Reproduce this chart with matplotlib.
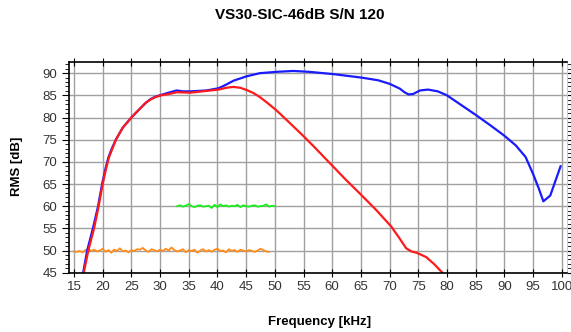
import numpy as np
import matplotlib
matplotlib.use('Agg')
import matplotlib.pyplot as plt
from matplotlib.ticker import MultipleLocator

plt.rcParams['font.family'] = ['Liberation Sans', 'DejaVu Sans']

# blue curve (f kHz, dB)
blue_f = [16.6, 17.3, 18.3, 19.2, 19.9, 20.5, 21.0, 21.6, 22.3, 23.5, 25.0, 26.5, 27.5,
          28.4, 29.2, 30.2, 31.5, 32.9, 34.0, 35.3, 38.1, 40.2, 41.5, 42.8, 45.1, 47.4,
          50.3, 53.2, 56.0, 60.1, 65.1, 68.0, 70.0, 71.8, 72.6, 73.3, 74.1, 75.3, 76.7,
          78.4, 80.0, 82.5, 85.0, 87.5, 90.0, 92.0, 93.7, 95.0, 96.0, 96.8, 98.0, 99.8]
blue_db = [45.0, 50.0, 55.0, 60.0, 65.0, 68.5, 71.0, 73.0, 75.0, 77.7, 80.0, 82.0, 83.3,
           84.2, 84.7, 85.1, 85.6, 86.1, 85.9, 85.9, 86.1, 86.6, 87.4, 88.3, 89.3, 90.0,
           90.3, 90.5, 90.3, 89.8, 89.0, 88.4, 87.6, 86.5, 85.7, 85.2, 85.3, 86.1, 86.3,
           85.9, 85.0, 82.8, 80.6, 78.3, 75.9, 73.7, 71.1, 67.3, 64.0, 61.1, 62.4, 69.0]

# red curve
red_f = [16.7, 17.5, 18.5, 19.3, 20.0, 20.6, 21.1, 21.7, 22.3, 23.5, 25.0, 26.5, 27.5,
         28.4, 29.2, 30.2, 31.5, 32.9, 35.3, 38.1, 40.2, 41.5, 42.8, 44.0, 45.1, 46.3,
         47.4, 48.8, 50.3, 52.5, 55.0, 57.0, 58.7, 60.2, 62.2, 65.1, 67.7, 70.3, 71.6,
         72.9, 73.8, 74.7, 75.6, 76.4, 77.8, 79.2]
red_db = [45.0, 50.0, 55.0, 60.0, 65.0, 68.5, 71.0, 73.0, 75.0, 77.7, 80.0, 82.0, 83.3,
          84.1, 84.6, 85.0, 85.3, 85.7, 85.6, 86.0, 86.3, 86.7, 86.9, 86.7, 86.2, 85.5,
          84.6, 83.2, 81.6, 78.9, 75.8, 73.2, 70.9, 68.9, 66.2, 62.5, 59.1, 55.4, 53.0,
          50.5, 49.8, 49.5, 49.0, 48.5, 46.9, 45.0]

# green noise, 33..50 kHz
green_range = (33.0, 50.0)
green_db = [60.0, 60.2, 59.9, 60.1, 60.5, 60.0, 59.8, 60.1, 60.2, 59.9, 60.0, 60.1,
            59.6, 60.3, 59.8, 60.4, 60.0, 60.2, 59.9, 60.1, 60.0, 60.3, 59.8, 60.2,
            60.0, 59.9, 60.1, 60.2, 59.9, 60.0, 60.1, 60.4, 59.9, 60.1, 60.0]

# orange noise, 15..49 kHz
orange_range = (15.0, 49.0)
orange_db = [49.8, 49.7, 49.9, 49.6, 50.1, 50.3, 49.9, 50.2, 49.8, 50.0, 50.4, 49.7,
             50.1, 49.5, 50.2, 49.9, 50.5, 49.8, 50.0, 49.6, 50.1, 49.9, 50.3, 50.2,
             50.6, 50.0, 49.7, 50.3, 50.1, 49.8, 50.2, 49.9, 50.4, 50.0, 50.7, 50.1,
             49.8, 50.0, 50.3, 49.6, 50.1, 49.9, 50.2, 49.5, 50.0, 50.3, 49.8, 50.1,
             49.7, 50.2, 50.4, 49.9, 50.0, 49.6, 50.3, 49.9, 50.1, 49.7, 50.2, 50.0,
             49.8, 50.1, 49.9, 49.7, 50.0, 50.4, 50.1, 49.8, 49.7]

fig = plt.figure(figsize=(5.71, 3.32), dpi=100)
ax = fig.add_axes([0.1208, 0.1786, 0.872, 0.6344])

ax.plot(np.linspace(*orange_range, len(orange_db)), orange_db, color='#ff8c1a', lw=1.3)
ax.plot(np.linspace(*green_range, len(green_db)), green_db, color='#1aee1a', lw=1.3)
ax.plot(blue_f, blue_db, color='#1a1aff', lw=1.6, solid_joinstyle='round')
ax.plot(red_f, red_db, color='#ff1a1a', lw=1.6, solid_joinstyle='round')

ax.set_xlim(14.13, 100.9)
ax.set_ylim(45, 92.5)
ax.xaxis.set_major_locator(MultipleLocator(5))
ax.yaxis.set_major_locator(MultipleLocator(5))
ax.yaxis.set_minor_locator(MultipleLocator(1))
ax.grid(True, which='major', color='#a0a0a0', lw=1)

ax.tick_params(axis='x', which='major', top=True, bottom=True, direction='inout',
               length=6, labelsize=9.5, labelcolor='#333333', pad=3)
ax.tick_params(axis='y', which='both', left=True, right=True, direction='out',
               labelsize=9.5, labelcolor='#333333')
ax.tick_params(axis='y', which='major', length=5)
ax.tick_params(axis='y', which='minor', length=3)
for t in ax.yaxis.get_ticklines(minor=True)[1::2] + ax.yaxis.get_ticklines()[1::2]:
    t.set_color('#777777')

ax.spines['right'].set_color('#cccccc')
for s in ['left', 'top', 'bottom']:
    ax.spines[s].set_linewidth(1.2)

fig.text(0.525, 0.955, 'VS30-SIC-46dB S/N 120', ha='center', va='center',
         fontsize=11, fontweight='bold')
fig.text(0.56, 0.03, 'Frequency [kHz]', ha='center', va='center',
         fontsize=9.5, fontweight='bold')
fig.text(0.03, 0.5, 'RMS [dB]', ha='center', va='center', rotation=90,
         fontsize=9.5, fontweight='bold')

fig.savefig('out.png', dpi=100)
